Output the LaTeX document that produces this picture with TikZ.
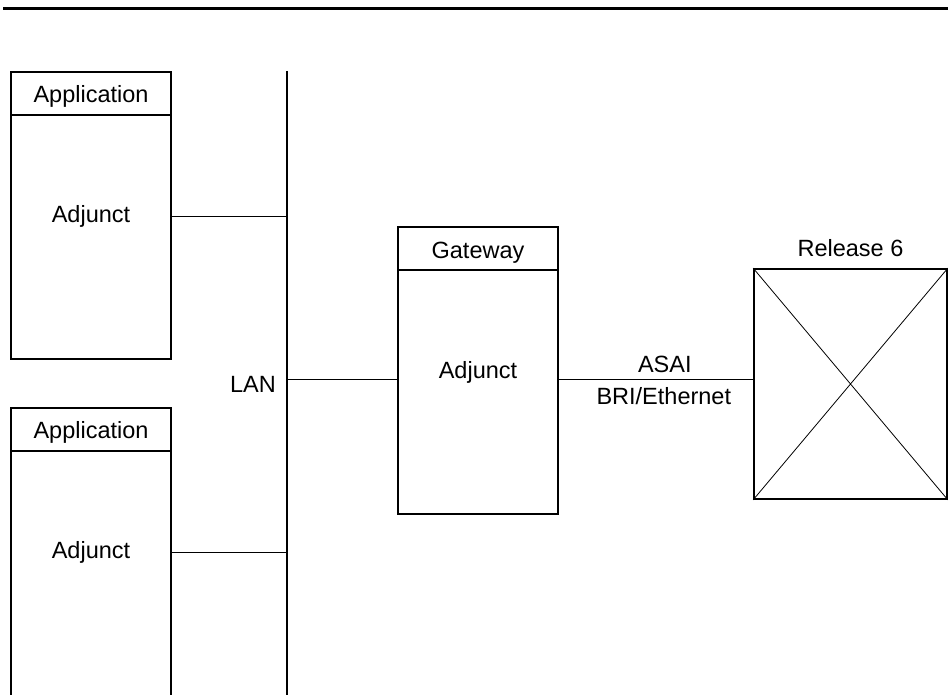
\documentclass[tikz,border=0pt]{standalone}
\usepackage{fontspec}
\setmainfont{Liberation Sans}
\usetikzlibrary{positioning}
\tikzset{unit/.style={draw,line width=1.6pt,rectangle,inner sep=0pt,
                      minimum width=160pt}}
\tikzset{txt/.style={font=\fontsize{23.5}{28}\selectfont,inner sep=0pt,anchor=base}}
\tikzset{wire/.style={line width=0.8pt}}
\tikzset{bus/.style={line width=1.6pt}}

\begin{document}
\begin{tikzpicture}[x=1pt,y=1pt]
    \useasboundingbox (0,0) rectangle (948,695);
    % Rule along the top
    \coordinate (ruleL) at (3,686.5);
    \coordinate (ruleR) at (950,686.5);
    \draw[line width=3pt] (ruleL) -- (ruleR);
    % Draw LAN bus
    \coordinate (lantop) at (287,624);
    \coordinate (lanbot) at (287,-5);
    \draw[bus] (lantop) -- (lanbot);
    \node[txt,anchor=base east] (lan) at (276,302) {LAN};
    % Draw application adjuncts and tie them to the bus
    \foreach \y/\h [count=\i] in {479.5/287,139/296}{%
          \node[unit,minimum height=\h pt] (app\i) at (91,\y) {};
          \draw[bus] ([yshift=-44pt]app\i.north west) -- ([yshift=-44pt]app\i.north east);
          \node[txt] (apptitle\i) at ([yshift=-31.5pt]app\i.north) {Application};
          \node[txt] (appadj\i) at ([yshift=-151.5pt]app\i.north) {Adjunct};
          \coordinate (tap\i) at ([yshift=-145pt]app\i.north east);
          \draw[wire] (tap\i) -- (tap\i -| lantop);
        }
    % Draw gateway adjunct
    \node[unit,minimum height=287pt] (gw) at (478,324.5) {};
    \draw[bus] ([yshift=-44pt]gw.north west) -- ([yshift=-44pt]gw.north east);
    \node[txt] (gwtitle) at ([yshift=-32pt]gw.north) {Gateway};
    \node[txt] (gwadj) at ([yshift=-152pt]gw.north) {Adjunct};
    \coordinate (gwin) at ([yshift=-153pt]gw.north west);
    \draw[wire] (gwin -| lantop) -- (gwin);
    % Draw Release 6 switch
    \node[unit,minimum width=193pt,minimum height=230pt] (rel) at (850.5,311) {};
    \draw[wire] (rel.north west) -- (rel.south east)
                (rel.south west) -- (rel.north east);
    \node[txt] (reltitle) at ([yshift=12pt]rel.north) {Release 6};
    % Link gateway to switch
    \coordinate (gwout) at ([yshift=-153pt]gw.north east);
    \draw[wire] (gwout) -- (gwout -| rel.west);
    \node[txt] (asai) at ([xshift=106pt,yshift=7pt]gwout) {ASAI};
    \node[txt] (bri) at ([xshift=105pt,yshift=-25pt]gwout) {BRI/Ethernet};
\end{tikzpicture}
\end{document}
